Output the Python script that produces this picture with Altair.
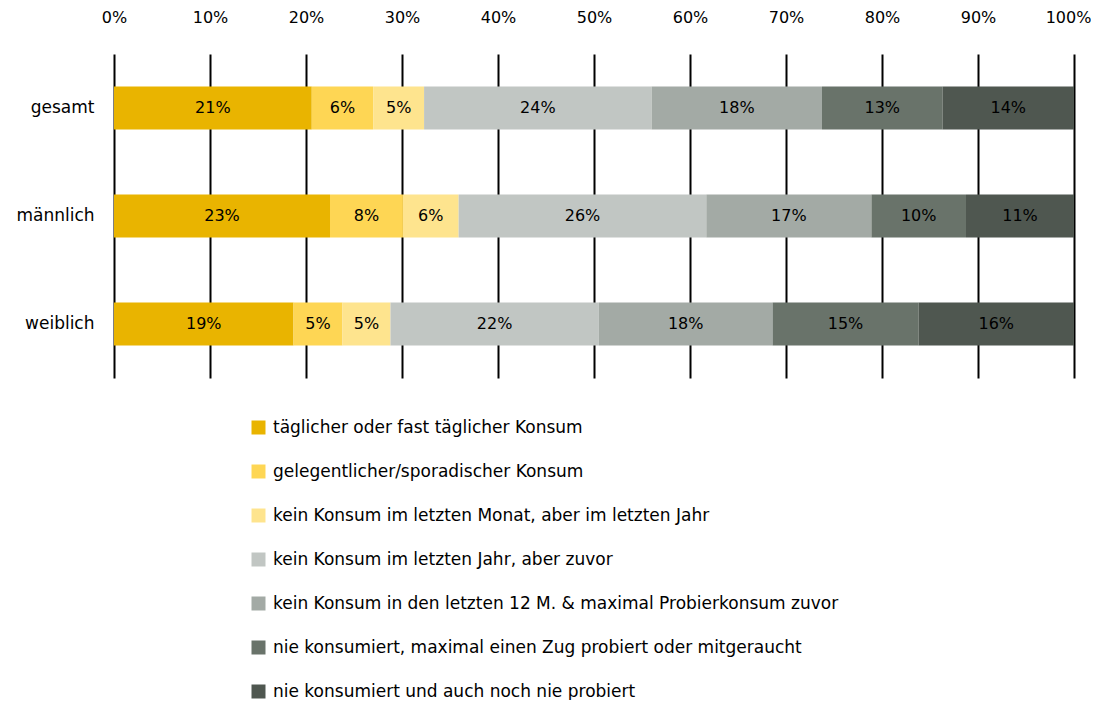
import altair as alt
import pandas as pd

groups = ["gesamt", "männlich", "weiblich"]
categories = [
    "täglicher oder fast täglicher Konsum",
    "gelegentlicher/sporadischer Konsum",
    "kein Konsum im letzten Monat, aber im letzten Jahr",
    "kein Konsum im letzten Jahr, aber zuvor",
    "kein Konsum in den letzten 12 M. & maximal Probierkonsum zuvor",
    "nie konsumiert, maximal einen Zug probiert oder mitgeraucht",
    "nie konsumiert und auch noch nie probiert",
]
colors = ["#E9B400", "#FED654", "#FEE48E", "#C1C6C3", "#A3AAA5", "#69736A", "#4F5750"]

values_gesamt = [20.6, 6.4, 5.3, 23.7, 17.75, 12.55, 13.7]
values_maennlich = [22.5, 7.6, 5.8, 25.8, 17.2, 9.85, 11.25]
values_weiblich = [18.7, 5.1, 5.0, 21.7, 18.1, 15.2, 16.2]

labels_gesamt = ["21%", "6%", "5%", "24%", "18%", "13%", "14%"]
labels_maennlich = ["23%", "8%", "6%", "26%", "17%", "10%", "11%"]
labels_weiblich = ["19%", "5%", "5%", "22%", "18%", "15%", "16%"]

x_ticks = [0, 10, 20, 30, 40, 50, 60, 70, 80, 90, 100]

FONT = "DejaVu Sans"

rows = []
for g, vals, labs in zip(groups,
                         [values_gesamt, values_maennlich, values_weiblich],
                         [labels_gesamt, labels_maennlich, labels_weiblich]):
    for i, (c, v, l) in enumerate(zip(categories, vals, labs)):
        rows.append(dict(group=g, category=c, order=i, value=v, label=l))
df = pd.DataFrame(rows)

base = alt.Chart(df).transform_stack(
    stack="value", as_=["x0", "x1"], groupby=["group"],
    sort=[alt.SortField("order", order="ascending")]
).transform_calculate(mid="(datum.x0 + datum.x1) / 2")

y_enc = alt.Y(
    "group:N", sort=groups,
    scale=alt.Scale(paddingInner=0.6, paddingOuter=0.3),
    axis=alt.Axis(title=None, domain=False, ticks=False, labelFontSize=17,
                  labelFont=FONT, labelColor="black", labelPadding=20,
                  minExtent=101, maxExtent=101),
)

bars = base.mark_bar().encode(
    x=alt.X("x0:Q", scale=alt.Scale(domain=[0, 100], nice=False),
            axis=alt.Axis(orient="top", values=x_ticks, labelExpr="datum.value + '%'",
                          title=None, domain=False, ticks=False, grid=True,
                          gridColor="black", gridWidth=2, gridOpacity=1,
                          labelFontSize=16, labelFont=FONT, labelColor="black",
                          labelFlush=False, labelOverlap=False,
                          labelOffset={"condition": {"test": "datum.value === 100", "value": -6},
                                       "value": 0},
                          labelPadding=29)),
    x2="x1:Q",
    y=y_enc,
    color=alt.Color("category:N", sort=categories,
                    scale=alt.Scale(domain=categories, range=colors),
                    legend=alt.Legend(orient="none", legendX=136, legendY=365,
                                      title=None, symbolType="square", symbolSize=196,
                                      symbolStrokeWidth=0, symbolOpacity=1,
                                      labelFontSize=17, labelFont=FONT,
                                      labelColor="black", rowPadding=26,
                                      labelOffset=6, padding=0, labelLimit=800)),
    order=alt.Order("order:Q"),
)

texts = base.mark_text(font=FONT, fontSize=16, color="black", baseline="middle").encode(
    x="mid:Q",
    y=alt.Y("group:N", sort=groups),
    text="label:N",
)

chart = alt.layer(bars, texts).properties(
    width=960, height=324,
    padding={"left": 5, "top": 1, "right": 0, "bottom": 0},
).configure_view(stroke=None)

chart.save("out.html", embed_options={"renderer": "svg", "actions": False})
